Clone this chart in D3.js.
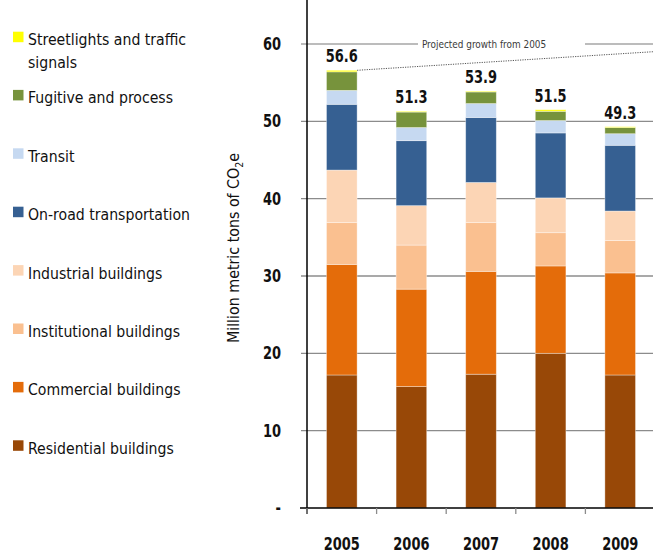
<!DOCTYPE html>
<html>
<head>
<meta charset="utf-8">
<script src="https://cdn.jsdelivr.net/npm/d3@7"></script>
<style>
  body { margin: 0; background: #fff; }
  svg { display: block; font-family: "DejaVu Sans Condensed", "DejaVu Sans", sans-serif; }
</style>
</head>
<body>
<div id="chart"></div>
<script>
// 年份
const years = ['2005', '2006', '2007', '2008', '2009']
// 各类排放（百万吨 CO2e），从下往上堆叠
const residential = [17.2, 15.7, 17.3, 20.0, 17.2]
const commercial = [14.3, 12.6, 13.3, 11.3, 13.2]
const institutional = [5.4, 5.7, 6.3, 4.3, 4.2]
const industrial = [6.8, 5.1, 5.2, 4.5, 3.8]
const onRoad = [8.5, 8.4, 8.4, 8.4, 8.5]
const transit = [1.8, 1.7, 1.8, 1.6, 1.5]
const fugitive = [2.4, 2.0, 1.5, 1.2, 0.8]
const streetlights = [0.2, 0.1, 0.1, 0.2, 0.1]
// 柱顶总量标签
const totals = ['56.6', '51.3', '53.9', '51.5', '49.3']
// y轴刻度
const yTicks = [0, 10, 20, 30, 40, 50, 60]
// 2005年起的预计增长线（起点、右端）
const projected = [56.6, 59.0]

const series = [
  { name: 'Residential buildings', values: residential, color: '#984807' },
  { name: 'Commercial buildings', values: commercial, color: '#e46c0a' },
  { name: 'Institutional buildings', values: institutional, color: '#fac090' },
  { name: 'Industrial buildings', values: industrial, color: '#fcd5b5' },
  { name: 'On-road transportation', values: onRoad, color: '#366092' },
  { name: 'Transit', values: transit, color: '#c6d9f1' },
  { name: 'Fugitive and process', values: fugitive, color: '#77933c' },
  { name: 'Streetlights and traffic signals', values: streetlights, color: '#ffff00' }
]

const width = 653
const height = 554
const plot = { left: 307, right: 655, top: 44, bottom: 508 }

const svg = d3.select('#chart')
  .append('svg')
  .attr('width', width)
  .attr('height', height)

// 横向压缩文字（模拟窄体字）
function narrowText(g, px, py, sx, size, weight, anchor, txt) {
  return g.append('text')
    .attr('transform', `translate(${px},${py}) scale(${sx},1)`)
    .attr('text-anchor', anchor)
    .attr('font-size', size)
    .attr('font-weight', weight)
    .attr('fill', '#111')
    .text(txt)
}

// 比例尺
const x = d3.scaleBand()
  .domain(years)
  .range([plot.left, plot.right])
  .paddingInner(0.56)
  .paddingOuter(0.28)
const xTick = d3.scaleBand().domain(years).range([plot.left, plot.right])
const y = d3.scaleLinear().domain([0, 60]).range([plot.bottom, plot.top])

// 堆叠数据
const table = years.map((yr, i) => {
  const row = { year: yr }
  series.forEach(s => { row[s.name] = s.values[i] })
  return row
})
const stacked = d3.stack().keys(series.map(s => s.name))(table)

// 网格线
const gridG = svg.append('g')
yTicks.filter(t => t > 0 && t < 60).forEach(t => {
  gridG.append('line')
    .attr('x1', 301).attr('x2', width)
    .attr('y1', y(t)).attr('y2', y(t))
    .attr('stroke', '#8c8c8c')
    .attr('stroke-width', 1.3)
})
// 60 的网格线被文字截断
gridG.append('line')
  .attr('x1', 301).attr('x2', 418)
  .attr('y1', y(60)).attr('y2', y(60))
  .attr('stroke', '#a6a6a6').attr('stroke-width', 1.3)
gridG.append('line')
  .attr('x1', 585).attr('x2', width)
  .attr('y1', y(60)).attr('y2', y(60))
  .attr('stroke', '#a6a6a6').attr('stroke-width', 1.3)

narrowText(svg, 484, y(60) + 4, 0.9, 11, 'normal', 'middle', 'Projected growth from 2005')
  .attr('fill', '#3a3a3a')

// 柱子
svg.append('g')
  .selectAll('g')
  .data(stacked)
  .join('g')
  .attr('fill', (d, i) => series[i].color)
  .selectAll('rect')
  .data(d => d)
  .join('rect')
  .attr('x', d => x(d.data.year))
  .attr('width', x.bandwidth())
  .attr('y', d => y(d[1]))
  .attr('height', d => y(d[0]) - y(d[1]))
  .attr('stroke', 'rgba(255,255,255,0.45)')
  .attr('stroke-width', 0.8)

// 预计增长虚线
svg.append('line')
  .attr('x1', x(years[0]) + x.bandwidth())
  .attr('y1', y(projected[0]))
  .attr('x2', width)
  .attr('y2', y(projected[1]))
  .attr('stroke', '#555')
  .attr('stroke-width', 1)
  .attr('stroke-dasharray', '1.2,1.2')

// 总量标签
const totalG = svg.append('g')
years.forEach((yr, i) => {
  narrowText(totalG, x(yr) + x.bandwidth() / 2, y(+totals[i]) - 8, 0.85, 17, 'bold', 'middle', totals[i])
})

// 坐标轴
svg.append('line')
  .attr('x1', plot.left).attr('x2', plot.left)
  .attr('y1', 0).attr('y2', plot.bottom + 6)
  .attr('stroke', '#000').attr('stroke-width', 1.5)
svg.append('line')
  .attr('x1', 300).attr('x2', width)
  .attr('y1', plot.bottom).attr('y2', plot.bottom)
  .attr('stroke', '#000').attr('stroke-width', 1.5)
// x 刻度
svg.append('g')
  .selectAll('line')
  .data(years)
  .join('line')
  .attr('x1', d => xTick(d)).attr('x2', d => xTick(d))
  .attr('y1', plot.bottom).attr('y2', plot.bottom + 6)
  .attr('stroke', '#8c8c8c').attr('stroke-width', 1.3)

const xLabelG = svg.append('g')
years.forEach(yr => {
  narrowText(xLabelG, x(yr) + x.bandwidth() / 2, 550, 0.85, 17, 'bold', 'middle', yr)
})

// y 刻度标签
const yLabelG = svg.append('g')
yTicks.forEach(t => {
  narrowText(yLabelG, 281, y(t) + 6, 0.85, 17, 'bold', 'end', t === 0 ? '-' : String(t))
})

// y 轴标题
const title = svg.append('text')
  .attr('transform', 'translate(239,248) rotate(-90) scale(0.96,1)')
  .attr('text-anchor', 'middle')
  .attr('font-size', 16.5)
  .attr('fill', '#111')
title.append('tspan').text('Million metric tons of CO')
title.append('tspan').attr('font-size', 11).attr('dy', 4).text('2')
title.append('tspan').attr('dy', -4).text('e')

// 图例
const legend = svg.append('g')
const legendItems = series.slice().reverse()
legendItems.forEach((s, i) => {
  const ty = i === 0 ? 31.7 : 31.5 + i * 58.4
  legend.append('rect')
    .attr('x', 13).attr('y', ty)
    .attr('width', 10.5).attr('height', 10.5)
    .attr('fill', s.color)
  if (s.name === 'Streetlights and traffic signals') {
    narrowText(legend, 28, ty + 13.5, 0.95, 16.5, 'normal', 'start', 'Streetlights and traffic')
    narrowText(legend, 28, ty + 36.2, 0.95, 16.5, 'normal', 'start', 'signals')
  } else {
    narrowText(legend, 28, ty + 13.5, 0.95, 16.5, 'normal', 'start', s.name)
  }
})
</script>
</body>
</html>
